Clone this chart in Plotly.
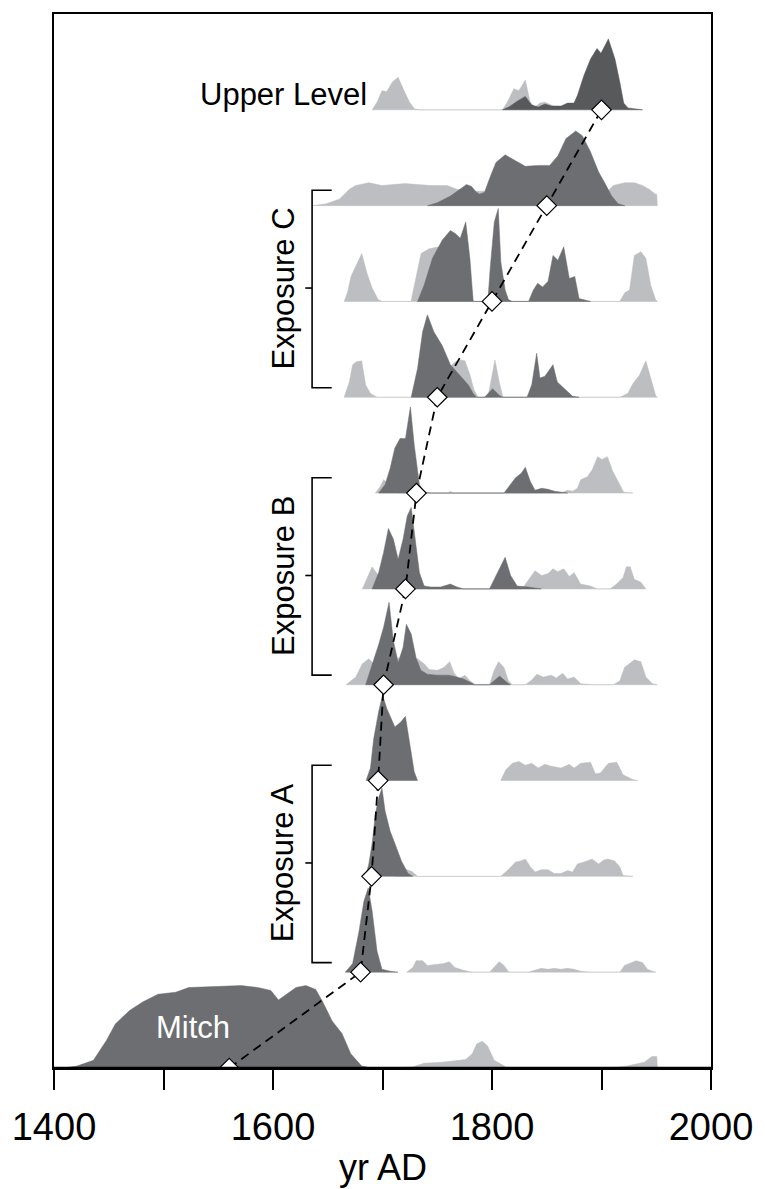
import plotly.graph_objects as go

# Calibrated age distributions, one row per sampled level (bottom to top).
# Each list holds (year AD, relative probability) pairs; rows are stacked.
mitch_dark = [(1400, 0.0), (1412, 0.005), (1421, 0.02), (1436, 0.08), (1448, 0.29), (1456, 0.46),
              (1469, 0.60), (1481, 0.69), (1495, 0.77), (1511, 0.79), (1523, 0.84), (1547, 0.85),
              (1571, 0.86), (1586, 0.84), (1598, 0.81), (1605, 0.71), (1612, 0.77), (1621, 0.84),
              (1630, 0.86), (1639, 0.82), (1645, 0.70), (1654, 0.49), (1663, 0.36), (1671, 0.15),
              (1681, 0.02), (1690, 0.0)]
mitch_light = [(1700, 0.0), (1727, 0.01), (1738, 0.05), (1754, 0.06), (1770, 0.08), (1776, 0.09),
               (1782, 0.15), (1786, 0.25), (1791, 0.28), (1796, 0.23), (1802, 0.08), (1813, 0.01),
               (1825, 0.0), (1900, 0.0), (1915, 0.01), (1923, 0.02), (1939, 0.06), (1946, 0.12),
               (1950.5, 0.12), (1951, 0.0)]

a1_dark = [(1666, 0.0), (1672.7, 0.09), (1678.6, 0.43), (1683, 0.74), (1687, 0.88), (1690.5, 0.64),
           (1695, 0.22), (1699.5, 0.03), (1707, 0.01), (1714, 0.0)]
a1_light = [(1722, 0.0), (1727.7, 0.05), (1730.7, 0.12), (1736.6, 0.12), (1741, 0.07), (1750, 0.08),
            (1756, 0.09), (1761, 0.11), (1766, 0.05), (1774, 0.02), (1782, 0.0), (1797.7, 0.0),
            (1802, 0.05), (1806.6, 0.11), (1811, 0.07), (1815.5, 0.0), (1833, 0.0), (1839, 0.02),
            (1845, 0.04), (1851, 0.03), (1857, 0.04), (1863, 0.03), (1869, 0.04), (1875, 0.03),
            (1881, 0.01), (1890, 0.0), (1916.7, 0.0), (1921, 0.07), (1931.6, 0.12), (1937.5, 0.10),
            (1942, 0.03), (1946.5, 0.01), (1949.5, 0.0)]

a2_dark = [(1684.6, 0.0), (1687.5, 0.13), (1690.5, 0.34), (1693.5, 0.65), (1696.5, 0.82),
           (1699.5, 0.92), (1702.4, 0.68), (1707, 0.47), (1711.4, 0.34), (1717.3, 0.16),
           (1723.3, 0.03), (1727.7, 0.0)]
a2_light = [(1712, 0.0), (1720, 0.08), (1727, 0.05), (1732, 0.0), (1808, 0.0), (1814, 0.06),
            (1821.5, 0.15), (1826, 0.16), (1830.4, 0.18), (1835, 0.10), (1839.3, 0.045), (1845, 0.07),
            (1851, 0.07), (1857, 0.03), (1863, 0.03), (1869, 0.06), (1873.6, 0.045), (1878, 0.13),
            (1884, 0.15), (1891.4, 0.18), (1897.3, 0.13), (1902, 0.17), (1906, 0.18), (1912, 0.16),
            (1916.7, 0.10), (1919.7, 0.01), (1928.6, 0.0)]

a3_dark = [(1685, 0.0), (1689, 0.13), (1692, 0.44), (1696.5, 0.72), (1700, 0.89), (1704, 0.75),
           (1711.3, 0.56), (1716.7, 0.61), (1720.9, 0.67), (1724.7, 0.41), (1729, 0.09), (1732, 0.0)]
a3_light = [(1808, 0.0), (1812.5, 0.11), (1818.5, 0.18), (1824.5, 0.20), (1830.4, 0.16),
            (1836.3, 0.18), (1842.3, 0.13), (1848.3, 0.17), (1854, 0.15), (1863, 0.13),
            (1870.6, 0.17), (1875, 0.13), (1881, 0.18), (1890, 0.19), (1894.4, 0.07), (1899, 0.08),
            (1906.3, 0.18), (1914, 0.19), (1919.7, 0.06), (1928.6, 0.01), (1933, 0.0)]

b1_dark = [(1684.6, 0.0), (1692, 0.25), (1696.5, 0.42), (1701, 0.60), (1706, 0.86), (1709.9, 0.46),
           (1714.3, 0.23), (1718.8, 0.39), (1721.8, 0.63), (1726.2, 0.53), (1730.7, 0.28),
           (1735, 0.15), (1741, 0.11), (1750, 0.10), (1760.5, 0.10), (1768, 0.08), (1774, 0.06),
           (1781, 0.02), (1784, 0.0), (1797.7, 0.0), (1807, 0.09), (1814, 0.02), (1817, 0.0)]
b1_light = [(1666.7, 0.0), (1675.6, 0.08), (1681.6, 0.22), (1687.5, 0.27), (1692, 0.22), (1700, 0.25),
            (1715, 0.28), (1725, 0.28), (1732, 0.27), (1738, 0.22), (1742.6, 0.16), (1750, 0.15),
            (1756, 0.18), (1761.4, 0.24), (1765, 0.13), (1769.4, 0.06), (1775.3, 0.10), (1780, 0.04),
            (1785, 0.0), (1797.7, 0.0), (1802, 0.15), (1806, 0.24), (1811, 0.18), (1815, 0.04),
            (1818.5, 0.0), (1830.4, 0.0), (1836.3, 0.05), (1841, 0.11), (1846.8, 0.08),
            (1854.2, 0.10), (1858.7, 0.07), (1864.6, 0.12), (1869, 0.06), (1875, 0.08), (1881, 0.01),
            (1893, 0.0), (1910.7, 0.0), (1916.7, 0.04), (1921, 0.18), (1930, 0.26), (1936, 0.24),
            (1940.5, 0.08), (1946.5, 0.01), (1951, 0.0)]

b2_dark = [(1690.5, 0.0), (1696.5, 0.17), (1701, 0.38), (1705.4, 0.63), (1709.9, 0.52),
           (1714.3, 0.31), (1718.8, 0.52), (1722.6, 0.76), (1726.2, 0.85), (1730, 0.52),
           (1733.7, 0.17), (1738, 0.03), (1744, 0.02), (1753, 0.02), (1762, 0.05), (1768, 0.02),
           (1774, 0.0), (1797.7, 0.0), (1805, 0.16), (1812, 0.33), (1817, 0.14), (1823, 0.03),
           (1833.4, 0.02), (1845, 0.0)]
b2_light = [(1681.6, 0.0), (1686, 0.12), (1690.5, 0.23), (1695, 0.16), (1700, 0.10), (1728, 0.10),
            (1733.7, 0.10), (1738, 0.03), (1742, 0.0), (1827.4, 0.0), (1833.4, 0.10), (1839.3, 0.19),
            (1845.3, 0.14), (1851.2, 0.16), (1855.7, 0.21), (1860, 0.18), (1865.5, 0.21),
            (1870.6, 0.13), (1875, 0.17), (1881, 0.05), (1890, 0.03), (1896, 0.0), (1907.8, 0.0),
            (1913.7, 0.05), (1919.7, 0.12), (1922.7, 0.23), (1926.2, 0.23), (1930, 0.10),
            (1936, 0.07), (1940.5, 0.0)]

b3_dark = [(1696.5, 0.0), (1702.4, 0.09), (1707, 0.26), (1711.3, 0.47), (1716, 0.57), (1721, 0.57),
           (1725.5, 0.90), (1729, 0.50), (1733.7, 0.09), (1738, 0.01), (1744, 0.0), (1811, 0.0),
           (1815.5, 0.07), (1821.5, 0.16), (1827, 0.21), (1830.4, 0.27), (1835, 0.12),
           (1839.3, 0.03), (1845.3, 0.05), (1851.2, 0.04), (1857, 0.02), (1864.6, 0.01), (1869, 0.0)]
b3_light = [(1693.5, 0.0), (1698, 0.07), (1701, 0.14), (1705.4, 0.10), (1710, 0.05), (1715, 0.0),
            (1760, 0.0), (1762, 0.02), (1764, 0.0), (1863, 0.0), (1869, 0.03), (1873.6, 0.02),
            (1878, 0.05), (1881, 0.14), (1887, 0.17), (1891.4, 0.24), (1896.5, 0.38),
            (1900.3, 0.35), (1905.4, 0.38), (1910.2, 0.23), (1915.2, 0.12), (1920.3, 0.01),
            (1928.6, 0.0)]

c1_dark = [(1726.2, 0.0), (1732, 0.30), (1736.6, 0.68), (1741, 0.86), (1747, 0.68), (1754.5, 0.54),
           (1762, 0.34), (1771, 0.23), (1778.3, 0.13), (1782.8, 0.04), (1785.8, 0.0), (1793.2, 0.0),
           (1800.6, 0.09), (1806.6, 0.02), (1810, 0.0), (1832, 0.0), (1836.3, 0.13), (1840.8, 0.46),
           (1843.8, 0.20), (1848.3, 0.22), (1851.2, 0.27), (1855.7, 0.34), (1859.6, 0.16),
           (1864.6, 0.11), (1869, 0.06), (1873.6, 0.01), (1879.5, 0.0)]
c1_light = [(1665, 0.0), (1669.7, 0.16), (1672.7, 0.34), (1676.2, 0.37), (1681, 0.38), (1684.6, 0.13),
            (1689, 0.04), (1695, 0.0), (1745, 0.0), (1760, 0.30), (1766.4, 0.37), (1771, 0.39),
            (1775.3, 0.38), (1780, 0.23), (1783.4, 0.08), (1787.3, 0.0), (1796.2, 0.0), (1799, 0.16),
            (1802.7, 0.39), (1806.6, 0.16), (1810, 0.0), (1916.7, 0.0), (1924, 0.04), (1928.6, 0.14),
            (1934.6, 0.23), (1940.5, 0.38), (1945, 0.20), (1949.4, 0.02), (1951, 0.0)]

c2_dark = [(1732, 0.0), (1738, 0.17), (1745.6, 0.45), (1754.5, 0.64), (1762, 0.74), (1766.4, 0.71),
           (1771, 0.66), (1776, 0.83), (1779.8, 0.45), (1782.8, 0.0), (1796.2, 0.0), (1798.3, 0.34),
           (1802.1, 0.83), (1805.7, 0.97), (1808.1, 0.41), (1812, 0.12), (1815, 0.02), (1818.5, 0.0),
           (1833.4, 0.0), (1837.8, 0.12), (1841.7, 0.19), (1846.2, 0.15), (1851.2, 0.21),
           (1855.7, 0.48), (1860.2, 0.43), (1865.5, 0.57), (1870.6, 0.24), (1875.6, 0.26),
           (1879.5, 0.03), (1885.5, 0.01), (1890, 0.0)]
c2_light = [(1665, 0.0), (1668.2, 0.10), (1671.2, 0.26), (1675.6, 0.36), (1681, 0.50), (1686, 0.29),
            (1690.5, 0.14), (1696, 0.02), (1699.5, 0.0), (1726, 0.0), (1730.7, 0.24), (1735.2, 0.50),
            (1742.6, 0.55), (1751.5, 0.57), (1765, 0.55), (1778, 0.40), (1783, 0.0), (1916.7, 0.0),
            (1921.2, 0.09), (1925.6, 0.12), (1930, 0.48), (1936, 0.52), (1940.5, 0.45), (1945, 0.17),
            (1949.4, 0.02), (1951, 0.0)]

c3_dark = [(1741.1, 0.0), (1750, 0.03), (1762, 0.10), (1770.9, 0.17), (1776.8, 0.22), (1781.3, 0.20),
           (1785.8, 0.14), (1788.7, 0.12), (1793.2, 0.14), (1797.7, 0.28), (1803.6, 0.45),
           (1812, 0.53), (1818.5, 0.49), (1830.4, 0.41), (1842.3, 0.42), (1852.7, 0.42),
           (1860.2, 0.52), (1867.6, 0.70), (1876.5, 0.78), (1882.5, 0.73), (1890, 0.56),
           (1897.4, 0.35), (1903.3, 0.23), (1909.3, 0.10), (1915.2, 0.02), (1921.2, 0.0)]
c3_light = [(1636, 0.0), (1648.8, 0.02), (1660.8, 0.07), (1669.7, 0.17), (1675.6, 0.21),
            (1687.5, 0.24), (1699.5, 0.21), (1711.3, 0.22), (1720.3, 0.23), (1732.2, 0.22),
            (1744.1, 0.21), (1759, 0.21), (1768, 0.17), (1780, 0.15), (1900, 0.15), (1904.8, 0.14),
            (1910.7, 0.21), (1921.2, 0.24), (1930, 0.24), (1937.5, 0.21), (1943.5, 0.17),
            (1949.4, 0.12), (1950.5, 0.12), (1951, 0.0)]

up_dark = [(1809.6, 0.0), (1815.5, 0.03), (1823, 0.09), (1830.4, 0.14), (1836.3, 0.05),
           (1842.3, 0.03), (1848.3, 0.06), (1854.2, 0.04), (1863.1, 0.04), (1869, 0.07),
           (1874.9, 0.07), (1878, 0.15), (1884, 0.36), (1890, 0.53), (1895.9, 0.64), (1899.5, 0.59),
           (1906.3, 0.74), (1912.3, 0.53), (1916.7, 0.29), (1920.3, 0.07), (1924.2, 0.02),
           (1931.6, 0.01), (1937.5, 0.0)]
up_light = [(1690.5, 0.0), (1695, 0.08), (1699.5, 0.20), (1703.9, 0.19), (1709, 0.29), (1714.3, 0.34),
            (1719.7, 0.20), (1724.7, 0.08), (1729.2, 0.01), (1733.7, 0.0), (1809.6, 0.0), (1814, 0.08),
            (1820, 0.22), (1824.5, 0.20), (1830.4, 0.31), (1834.9, 0.08), (1839.3, 0.03),
            (1843.8, 0.07), (1848.3, 0.08), (1854.2, 0.05), (1860, 0.01), (1862, 0.0)]

# Median ages of each level, bottom to top
median_age = [1560, 1680, 1690, 1696, 1701, 1721, 1731, 1750, 1800, 1850, 1900]

rows = [
    (mitch_light, mitch_dark), (a1_light, a1_dark), (a2_light, a2_dark), (a3_light, a3_dark),
    (b1_light, b1_dark), (b2_light, b2_dark), (b3_light, b3_dark),
    (c1_light, c1_dark), (c2_light, c2_dark), (c3_light, c3_dark), (up_light, up_dark),
]
groups = [("Exposure A", 1), ("Exposure B", 4), ("Exposure C", 7)]

LIGHT = "#BDBEC1"
DARK = "#6D6E71"
DARK_TOP = "#58595B"
FONT = "Liberation Sans, Arial, Helvetica, sans-serif"


def band(points, base, color):
    xs = [p[0] for p in points]
    ys = [base + p[1] for p in points]
    xs = xs + [xs[-1], xs[0]]
    ys = ys + [base, base]
    return go.Scatter(x=xs, y=ys, mode="lines", fill="toself", fillcolor=color,
                      line=dict(color=color, width=0.5), hoverinfo="skip", showlegend=False)


fig = go.Figure()
for i, (light, dark) in enumerate(rows):
    fig.add_trace(band(light, i, LIGHT))
    fig.add_trace(band(dark, i, DARK_TOP if i == len(rows) - 1 else DARK))

levels = list(range(len(median_age)))
fig.add_trace(go.Scatter(x=median_age, y=levels, mode="lines",
                         line=dict(color="black", width=1.8, dash="9px,6px"),
                         hoverinfo="skip", showlegend=False))
fig.add_trace(go.Scatter(x=median_age, y=levels, mode="markers",
                         marker=dict(symbol="diamond", size=15, color="white",
                                     line=dict(color="black", width=1.2)),
                         hoverinfo="skip", showlegend=False))

# Brackets grouping the three levels of each exposure
shapes = []
annotations = []
for name, k in groups:
    y0, y1, ym = k + 0.10, k + 2.16, k + 1.14
    shapes.append(dict(type="path", xref="x", yref="y",
                       path=f"M 1653.6 {y1} L 1635.7 {y1} L 1635.7 {y0} L 1653.6 {y0}",
                       line=dict(color="black", width=1.6)))
    shapes.append(dict(type="line", xref="x", yref="y", x0=1635.7, x1=1629.5, y0=ym, y1=ym,
                       line=dict(color="black", width=1.6)))
    annotations.append(dict(x=1609.5, y=ym, xref="x", yref="y", text=name, textangle=-90,
                            showarrow=False, xanchor="center", yanchor="middle",
                            font=dict(family=FONT, size=31, color="black")))

# Heavier baseline along the time axis
shapes.append(dict(type="line", xref="paper", yref="paper", x0=0, x1=1, y0=0, y1=0,
                   line=dict(color="black", width=2.4)))

annotations.append(dict(x=1687.5, y=10.16, xref="x", yref="y", text="Upper Level",
                        showarrow=False, xanchor="right", yanchor="middle",
                        font=dict(family=FONT, size=31, color="black")))
annotations.append(dict(x=1526.5, y=0.42, xref="x", yref="y", text="Mitch",
                        showarrow=False, xanchor="center", yanchor="middle",
                        font=dict(family=FONT, size=31, color="white")))
annotations.append(dict(x=0.5, y=-0.0947, xref="paper", yref="paper", text="yr AD",
                        showarrow=False, xanchor="center", yanchor="middle",
                        font=dict(family=FONT, size=36, color="black")))

tick_years = [1400, 1500, 1600, 1700, 1800, 1900, 2000]
tick_text = ["1400", "", "1600", "", "1800", "", "2000"]

fig.update_layout(
    width=765, height=1189,
    margin=dict(l=48, r=45, t=12, b=121),
    paper_bgcolor="white", plot_bgcolor="white",
    shapes=shapes, annotations=annotations,
    xaxis=dict(range=[1400, 2000], showgrid=False, zeroline=False,
               showline=True, mirror=True, linecolor="black", linewidth=1.6,
               ticks="outside", ticklen=20, tickwidth=1.6, tickcolor="black",
               tickvals=tick_years, ticktext=tick_text, ticklabelstandoff=5,
               tickfont=dict(family=FONT, size=38, color="black")),
    yaxis=dict(range=[0, 11], showgrid=False, zeroline=False, showticklabels=False,
               showline=True, mirror=True, linecolor="black", linewidth=1.6, ticks=""),
)

fig.write_html("out.html")
